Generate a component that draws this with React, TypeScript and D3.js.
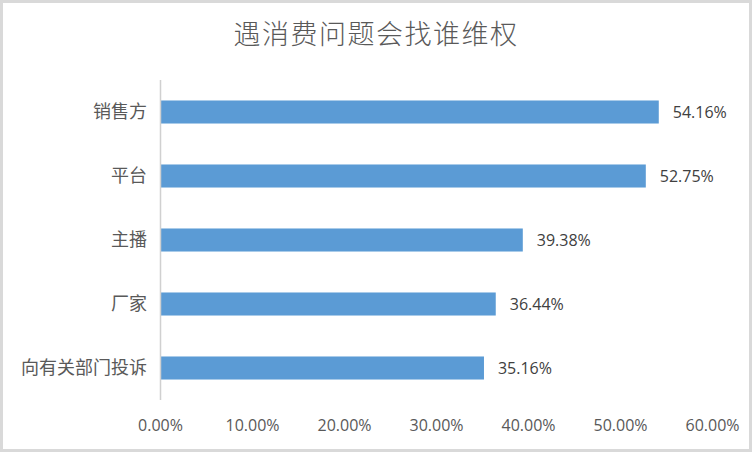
import React, { useEffect, useRef } from 'react';
import * as d3 from 'd3';

const categories = ['销售方', '平台', '主播', '厂家', '向有关部门投诉'];
const values = [54.16, 52.75, 39.38, 36.44, 35.16];
const ticks = [0, 10, 20, 30, 40, 50, 60];
const title = '遇消费问题会找谁维权';

const width = 752;
const height = 452;
const cjk = '"Noto Sans CJK SC", "Noto Sans", sans-serif';
const num = '"Open Sans", "Noto Sans", sans-serif';

export default function App() {
  const ref = useRef<SVGSVGElement>(null);

  useEffect(() => {
    const svg = d3.select(ref.current);
    svg.selectAll('*').remove();

    svg.append('rect')
      .attr('x', 1.5).attr('y', 1.5)
      .attr('width', width - 3).attr('height', height - 3)
      .attr('fill', '#fff')
      .attr('stroke', '#d9d9d9')
      .attr('stroke-width', 3);

    svg.append('text')
      .attr('x', 376).attr('y', 44)
      .attr('text-anchor', 'middle')
      .attr('font-family', cjk)
      .attr('font-size', 27)
      .attr('font-weight', 300)
      .attr('letter-spacing', 1.5)
      .attr('fill', '#595959')
      .text(title);

    const x = d3.scaleLinear().domain([0, 60]).range([160.5, 712.5]);
    const y = d3.scaleBand<string>().domain(categories).range([80, 400]).paddingInner(0.64).paddingOuter(0.32);

    const g = svg.append('g');

    g.selectAll('rect.bar')
      .data(values)
      .enter()
      .append('rect')
      .attr('class', 'bar')
      .attr('x', x(0))
      .attr('y', (d, i) => y(categories[i])!)
      .attr('width', (d) => x(d) - x(0))
      .attr('height', y.bandwidth())
      .attr('fill', '#5B9BD5');

    g.selectAll('text.val')
      .data(values)
      .enter()
      .append('text')
      .attr('class', 'val')
      .attr('x', (d) => x(d) + 14)
      .attr('y', (d, i) => y(categories[i])! + y.bandwidth() / 2)
      .attr('dy', '0.36em')
      .attr('font-family', num)
      .attr('font-size', 16)
      .attr('fill', '#404040')
      .text((d) => d.toFixed(2) + '%');

    g.selectAll('text.cat')
      .data(categories)
      .enter()
      .append('text')
      .attr('class', 'cat')
      .attr('x', 147)
      .attr('y', (d) => y(d)! + y.bandwidth() / 2)
      .attr('dy', '0.36em')
      .attr('text-anchor', 'end')
      .attr('font-family', cjk)
      .attr('font-size', 18)
      .attr('fill', '#595959')
      .text((d) => d);

    g.append('line')
      .attr('x1', x(0)).attr('x2', x(0))
      .attr('y1', 80).attr('y2', 400)
      .attr('stroke', '#d0d0d0')
      .attr('stroke-width', 1.5);

    g.selectAll('text.tick')
      .data(ticks)
      .enter()
      .append('text')
      .attr('class', 'tick')
      .attr('x', (d) => x(d))
      .attr('y', 431)
      .attr('text-anchor', 'middle')
      .attr('font-family', num)
      .attr('font-size', 16)
      .attr('fill', '#595959')
      .text((d) => d.toFixed(2) + '%');
  }, []);

  return (
    <svg
      ref={ref}
      width={width}
      height={height}
      style={{ position: 'absolute', left: 0, top: 0, display: 'block' }}
    />
  );
}
